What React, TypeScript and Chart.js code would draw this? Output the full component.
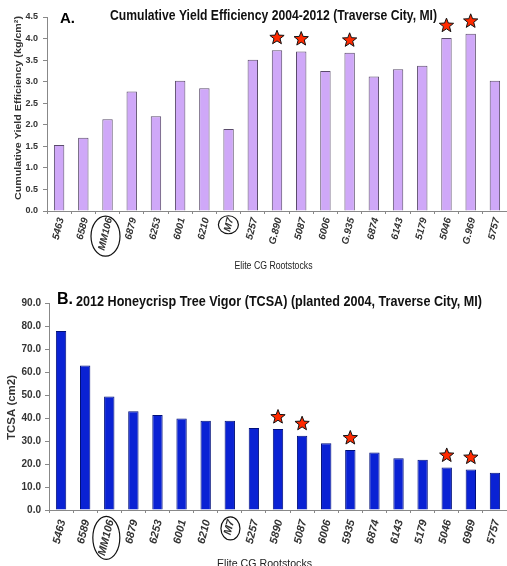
import React, { useEffect, useRef } from "react";
import { Chart, registerables } from "chart.js";

Chart.register(...registerables);

// ---------- data ----------
const rootstocksA = ["5463", "6589", "MM106", "6879", "6253", "6001", "6210", "M7", "5257", "G.890", "5087", "6006", "G.935", "6874", "6143", "5179", "5046", "G.969", "5757"];
const yieldEfficiency = [1.53, 1.70, 2.13, 2.77, 2.20, 3.02, 2.85, 1.90, 3.51, 3.73, 3.70, 3.25, 3.67, 3.12, 3.29, 3.37, 4.01, 4.11, 3.02];
const starredA = ["G.890", "5087", "G.935", "5046", "G.969"];
const yTicksA = [0, 0.5, 1, 1.5, 2, 2.5, 3, 3.5, 4, 4.5];

const rootstocksB = ["5463", "6589", "MM106", "6879", "6253", "6001", "6210", "M7", "5257", "5890", "5087", "6006", "5935", "6874", "6143", "5179", "5046", "6969", "5757"];
const tcsaValues = [77.8, 62.8, 49.4, 42.9, 41.3, 39.8, 38.8, 38.8, 35.7, 35.2, 32.3, 29.0, 26.1, 25.0, 22.5, 21.8, 18.5, 17.6, 16.2];
const starredB = ["5890", "5087", "5935", "5046", "6969"];
const yTicksB = [0, 10, 20, 30, 40, 50, 60, 70, 80, 90];

const circledLabels = ["MM106", "M7"];

const titleA = "Cumulative Yield Efficiency 2004-2012 (Traverse City, MI)";
const yTitleA = "Cumulative Yield Efficiency (kg/cm\u00B2)";
const titleB = "2012 Honeycrisp Tree Vigor (TCSA) (planted 2004, Traverse City, MI)";
const yTitleB = "TCSA (cm2)";
const xTitle = "Elite CG Rootstocks";

// ---------- helpers ----------
const SANS = '"Liberation Sans", Arial, "DejaVu Sans", sans-serif';

function fitText(ctx: CanvasRenderingContext2D, text: string, x: number, y: number, width: number, align: CanvasTextAlign, rot = 0) {
  const w = ctx.measureText(text).width;
  const s = width / w;
  ctx.save();
  ctx.translate(x, y);
  if (rot) ctx.rotate(rot);
  ctx.scale(s, 1);
  ctx.textAlign = align;
  ctx.fillText(text, 0, 0);
  ctx.restore();
}

function drawStar(ctx: CanvasRenderingContext2D, cx: number, cy: number, ro: number, ri: number) {
  ctx.beginPath();
  for (let i = 0; i < 10; i++) {
    const r = i % 2 === 0 ? ro : ri;
    const a = -Math.PI / 2 + (i * Math.PI) / 5;
    const px = cx + r * Math.cos(a);
    const py = cy + r * Math.sin(a);
    if (i === 0) ctx.moveTo(px, py);
    else ctx.lineTo(px, py);
  }
  ctx.closePath();
  ctx.fillStyle = "#ff2a00";
  ctx.fill();
  ctx.lineWidth = 1;
  ctx.strokeStyle = "#111";
  ctx.stroke();
}

interface Spec {
  labels: string[];
  values: number[];
  starred: string[];
  yTicks: number[];
  width: number;
  height: number;
  left: number;
  top: number;
  bottom: number;
  fill: string;
  border: string;
  tickFont: number;
  tickPad: number;
  letter: string;
  letterPos: [number, number, number];
  title: string;
  titlePos: [number, number, number, number];
  yTitle: string;
  yTitlePos: [number, number, number, number];
  xTitlePos: [number, number, number, number];
  labelFont: number;
  labelOff: [number, number];
  ellipses: Record<string, [number, number, number, number]>;
  starOff: number;
}

function makeChart(canvas: HTMLCanvasElement, s: Spec) {
  const annot = {
    id: "annot" + s.letter,
    afterDraw(chart: any) {
      const ctx: CanvasRenderingContext2D = chart.ctx;
      const meta = chart.getDatasetMeta(0);
      const axisY = chart.chartArea.bottom;
      ctx.save();
      ctx.textBaseline = "alphabetic";
      // big letter
      ctx.fillStyle = "#000";
      ctx.font = `bold ${s.letterPos[2]}px ${SANS}`;
      ctx.textAlign = "left";
      ctx.fillText(s.letter, s.letterPos[0], s.letterPos[1]);
      // title
      ctx.font = `bold ${s.titlePos[3]}px ${SANS}`;
      ctx.fillStyle = "#111";
      fitText(ctx, s.title, s.titlePos[0], s.titlePos[1], s.titlePos[2], "left");
      // y title
      ctx.font = `bold ${s.yTitlePos[3]}px ${SANS}`;
      ctx.fillStyle = "#333";
      fitText(ctx, s.yTitle, s.yTitlePos[0], s.yTitlePos[1], s.yTitlePos[2], "center", -Math.PI / 2);
      // x title
      ctx.font = `${s.xTitlePos[3]}px ${SANS}`;
      ctx.fillStyle = "#222";
      fitText(ctx, xTitle, s.xTitlePos[0], s.xTitlePos[1], s.xTitlePos[2], "center");
      // x labels
      const ang = (-76 * Math.PI) / 180;
      const ux = Math.cos(ang);
      const uy = Math.sin(ang);
      ctx.font = `italic bold ${s.labelFont}px ${SANS}`;
      ctx.fillStyle = "#333";
      s.labels.forEach((lab, i) => {
        const bar = meta.data[i];
        const ax = bar.x + s.labelOff[0];
        const ay = axisY + s.labelOff[1];
        ctx.save();
        ctx.translate(ax, ay);
        ctx.rotate(ang);
        ctx.textAlign = "right";
        ctx.textBaseline = "middle";
        ctx.fillText(lab, 0, 0);
        ctx.restore();
        if (circledLabels.includes(lab)) {
          const L = ctx.measureText(lab).width;
          const cx = ax - (L / 2) * ux;
          const cy = ay - (L / 2) * uy;
          const e = s.ellipses[lab];
          ctx.beginPath();
          ctx.ellipse(cx + e[0], cy + e[1], e[2], e[3], 0, 0, Math.PI * 2);
          ctx.lineWidth = 1.2;
          ctx.strokeStyle = "#111";
          ctx.stroke();
        }
      });
      // stars
      s.labels.forEach((lab, i) => {
        if (s.starred.includes(lab)) {
          const bar = meta.data[i];
          drawStar(ctx, bar.x, bar.y - s.starOff, 7.5, 3.2);
        }
      });
      ctx.restore();
    },
  };

  return new Chart(canvas, {
    type: "bar",
    data: {
      labels: s.labels,
      datasets: [
        {
          data: s.values,
          backgroundColor: s.fill,
          borderColor: s.border,
          borderWidth: 1,
          barPercentage: 0.43,
          categoryPercentage: 1,
        },
      ],
    },
    options: {
      animation: false,
      responsive: false,
      maintainAspectRatio: false,
      layout: { padding: { top: s.top, left: 0, right: 0, bottom: 0 } },
      plugins: { legend: { display: false }, tooltip: { enabled: false }, title: { display: false } },
      scales: {
        x: {
          grid: { display: true, drawOnChartArea: false, drawTicks: true, tickLength: 3, color: "#888", offset: true },
          border: { display: true, color: "#888" },
          ticks: { display: false },
          afterFit: (sc: any) => {
            sc.height = s.height - s.bottom;
          },
        },
        y: {
          min: s.yTicks[0],
          max: s.yTicks[s.yTicks.length - 1],
          afterBuildTicks: (sc: any) => {
            sc.ticks = s.yTicks.map((v) => ({ value: v }));
          },
          ticks: {
            callback: (v: any) => Number(v).toFixed(1),
            font: { size: s.tickFont, weight: "bold", family: SANS },
            color: "#333",
            padding: s.tickPad,
          },
          grid: { display: true, drawOnChartArea: false, drawTicks: true, tickLength: 4, color: "#888" },
          border: { display: true, color: "#888" },
          afterFit: (sc: any) => {
            sc.width = s.left;
          },
        },
      },
    },
    plugins: [annot],
  } as any);
}

function ChartBox({ spec, top }: { spec: Spec; top: number }) {
  const ref = useRef<HTMLCanvasElement>(null);
  useEffect(() => {
    if (!ref.current) return;
    const c = makeChart(ref.current, spec);
    return () => c.destroy();
  }, [spec]);
  return (
    <canvas
      ref={ref}
      width={spec.width}
      height={spec.height}
      style={{ position: "absolute", left: 0, top, width: spec.width, height: spec.height, display: "block" }}
    />
  );
}

const specA: Spec = {
  labels: rootstocksA,
  values: yieldEfficiency,
  starred: starredA,
  yTicks: yTicksA,
  width: 507,
  height: 280,
  left: 47,
  top: 17,
  bottom: 211,
  fill: "#cfa8f8",
  border: "#5b4c6c",
  tickFont: 9,
  tickPad: 5,
  letter: "A.",
  letterPos: [60, 23, 15],
  title: titleA,
  titlePos: [110, 20, 327, 14],
  yTitle: yTitleA,
  yTitlePos: [21, 108, 184, 9],
  xTitlePos: [273.5, 268.5, 78, 10],
  labelFont: 10,
  labelOff: [2, 7],
  ellipses: { MM106: [0, 2, 14.5, 20], M7: [-0.5, 0, 10, 9] },
  starOff: 12.5,
};

const specB: Spec = {
  labels: rootstocksB,
  values: tcsaValues,
  starred: starredB,
  yTicks: yTicksB,
  width: 507,
  height: 286,
  left: 49,
  top: 23,
  bottom: 230,
  fill: "#0a22d4",
  border: "#00107a",
  tickFont: 10,
  tickPad: 4,
  letter: "B.",
  letterPos: [57, 23.5, 16],
  title: titleB,
  titlePos: [76, 26, 406, 15.5],
  yTitle: yTitleB,
  yTitlePos: [15, 127.5, 65, 10],
  xTitlePos: [264.5, 287, 95, 11],
  labelFont: 11,
  labelOff: [1.5, 10],
  ellipses: { MM106: [0, 0, 13.5, 21.5], M7: [1, 1, 9.5, 11.5] },
  starOff: 12,
};

export default function App() {
  return (
    <div style={{ position: "absolute", left: 0, top: 0, width: 507, height: 566, background: "#fff", overflow: "hidden" }}>
      <ChartBox spec={specA} top={0} />
      <ChartBox spec={specB} top={280} />
    </div>
  );
}
